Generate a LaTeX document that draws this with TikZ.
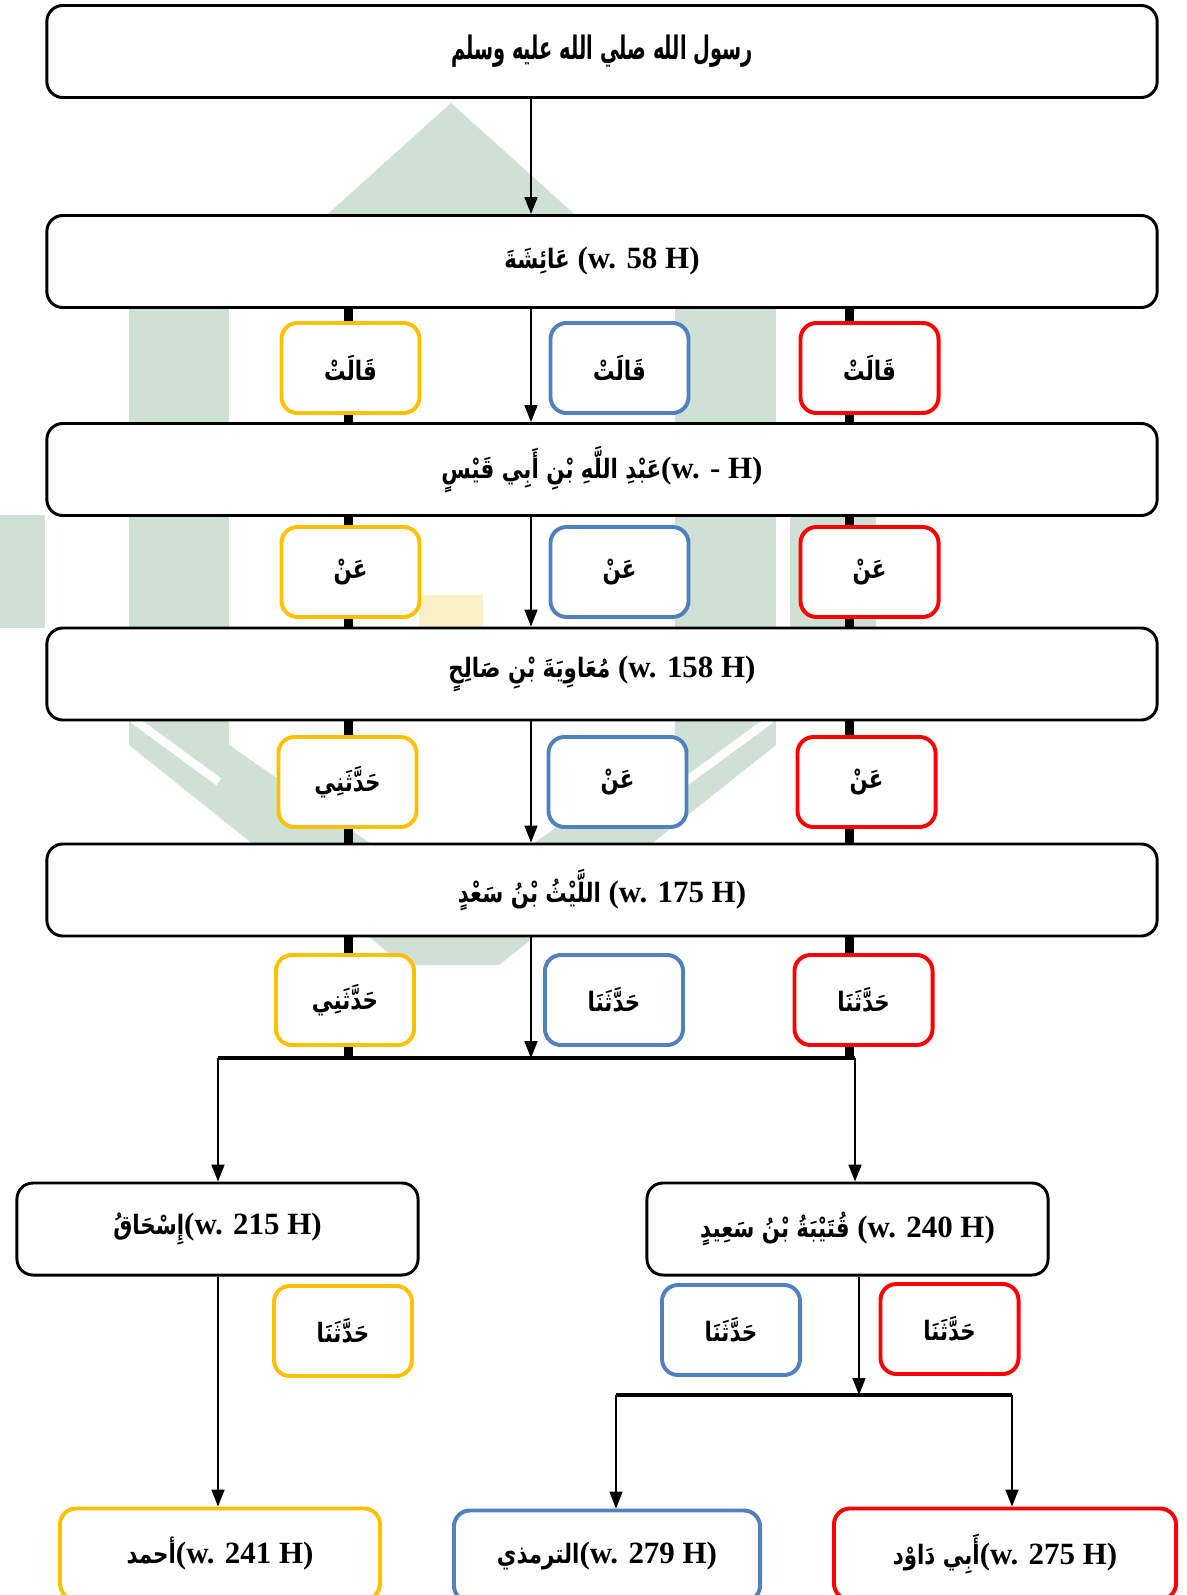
\documentclass[tikz,border=0pt]{standalone}
\usepackage{fontspec}
\setmainfont{Liberation Serif}
\newfontfamily\arabicfont[Script=Arabic,FakeStretch=0.8]{DejaVu Sans}
\newfontfamily\arabjudul[Script=Arabic,FakeStretch=0.6]{DejaVu Sans}
\TeXXeTstate=1
\usetikzlibrary{arrows.meta}
\definecolor{kuning}{HTML}{FFC000}
\definecolor{biru}{HTML}{4F81BD}
\definecolor{merah}{HTML}{FF0000}
\definecolor{hijaumuda}{HTML}{CFE1D5}
\definecolor{kuningmuda}{HTML}{FCF0C6}
\newcommand{\arab}[1]{{\arabicfont\bfseries\fontsize{19}{22}\selectfont\beginR #1\endR}}
\newcommand{\lafalqalat}{\arab{قَالَتْ}}
\newcommand{\lafalan}{\arab{عَنْ}}
\newcommand{\lafalhaddatsani}{\arab{حَدَّثَنِي}}
\newcommand{\lafalhaddatsana}{\arab{حَدَّثَنَا}}
\tikzset{
  rawi/.style={draw=black, line width=2.1pt, fill=white, rounded corners=0.4cm,
    minimum height=2.3cm, inner sep=0pt, font=\bfseries\fontsize{22}{26}\selectfont},
  sanad/.style={rawi, minimum width=27.75cm},
  cabang/.style={rawi, minimum width=10.025cm},
  mukharrij/.style={rawi, line width=2.8pt, minimum height=2.275cm},
  lafal/.style={fill=white, line width=2.8pt, rounded corners=0.4cm,
    minimum width=3.45cm, minimum height=2.25cm, inner sep=0pt},
  jalur/.style={line width=6.4pt},
  garis/.style={line width=2.5pt},
  panah/.style={line width=1.4pt, -{Triangle[length=0.42cm,width=0.32cm]}},
  latar/.style={fill=hijaumuda}
}
\begin{document}
\begin{tikzpicture}[x=0.025cm,y=-0.025cm]
\useasboundingbox (0,0) rectangle (1186,1595);
% logo di latar
\fill[latar] (451,103) -- (310,230) -- (592,230) -- cycle;
\fill[latar] (129,290) rectangle (229,745);
\fill[latar] (675,290) rectangle (776,745);
\fill[latar] (129,745) -- (229,745) -- (452,900) -- (675,745) -- (776,745) -- (499,965) -- (404,965) -- cycle;
\fill[latar] (0,515) rectangle (45,628);
\fill[latar] (790,517) rectangle (876,632);
\draw[white, line width=6pt] (133,719) -- (219,782);
\draw[white, line width=6pt] (771,719) -- (685,782);
\fill[kuningmuda] (419,595) rectangle (483,640);

% perawi
\node[sanad] (rasul) at (602,51.5) {{\arabjudul\bfseries\fontsize{23}{26}\selectfont\beginR رسول الله صلي الله عليه وسلم\endR}};
\node[sanad] (aisyah) at (602,261.5) {\arab{عَائِشَةَ} (w. 58 H)};
\node[sanad] (abdullah) at (602,469.5) {\arab{عَبْدِ اللَّهِ بْنِ أَبِي قَيْسٍ}(w. - H)};
\node[sanad] (muawiyah) at (602,674) {\arab{مُعَاوِيَةَ بْنِ صَالِحٍ} (w. 158 H)};
\node[sanad] (laits) at (602,890) {\arab{اللَّيْثُ بْنُ سَعْدٍ} (w. 175 H)};
\node[cabang] (ishaq) at (217.5,1229) {\arab{إِسْحَاقُ}(w. 215 H)};
\node[cabang] (qutaibah) at (847.5,1229) {\arab{قُتَيْبَةُ بْنُ سَعِيدٍ} (w. 240 H)};
\node[mukharrij, draw=kuning, minimum width=8cm] (ahmad) at (220,1554) {\arab{أحمد}(w. 241 H)};
\node[mukharrij, draw=biru, minimum width=7.65cm] (tirmidzi) at (607,1556) {\arab{الترمذي}(w. 279 H)};
\node[mukharrij, draw=merah, minimum width=8.55cm] (abudawud) at (1005,1554) {\arab{أَبِي دَاوْد}(w. 275 H)};

% jalur sanad
\coordinate (tengah) at (531,0);
\coordinate (kiri) at (348,0);
\coordinate (kanan) at (849,0);
\coordinate (simpulA) at (218,1058);
\coordinate (simpulB) at (855,1058);
\coordinate (tengahB) at (859,0);
\coordinate (simpulC) at (616,1395);
\coordinate (simpulD) at (1012,1395);
\draw[panah] (rasul.south -| tengah) -- (aisyah.north -| tengah);
\foreach \atas/\bawah in {aisyah/abdullah, abdullah/muawiyah, muawiyah/laits} {
  \draw[panah] (\atas.south -| tengah) -- (\bawah.north -| tengah);
  \draw[jalur] (\atas.south -| kiri) -- (\bawah.north -| kiri);
  \draw[jalur] (\atas.south -| kanan) -- (\bawah.north -| kanan);
}
\draw[jalur] (laits.south -| kiri) -- (kiri |- simpulA);
\draw[jalur] (laits.south -| kanan) -- (kanan |- simpulA);
\draw[panah] (laits.south -| tengah) -- (tengah |- simpulA);
\draw[garis] (simpulA) -- (simpulB);
\draw[panah] (simpulA) -- (simpulA |- ishaq.north);
\draw[panah] (simpulB) -- (simpulB |- qutaibah.north);
\draw[panah] (ishaq.south -| simpulA) -- (ahmad.north -| simpulA);
\draw[panah] (qutaibah.south -| tengahB) -- (tengahB |- simpulC);
\draw[garis, line width=3pt] (simpulC) -- (simpulD);
\draw[panah] (simpulC) -- (simpulC |- tirmidzi.north);
\draw[panah] (simpulD) -- (simpulD |- abudawud.north);

% lafal periwayatan
\node[lafal, draw=kuning] (k1) at (350.5,368) {\lafalqalat};
\node[lafal, draw=biru] (b1) at (619.5,368) {\lafalqalat};
\node[lafal, draw=merah] (m1) at (869.5,368) {\lafalqalat};
\node[lafal, draw=kuning] (k2) at (350.5,572) {\lafalan};
\node[lafal, draw=biru] (b2) at (619.5,572) {\lafalan};
\node[lafal, draw=merah] (m2) at (869.5,572) {\lafalan};
\node[lafal, draw=kuning] (k3) at (347.5,782) {\lafalhaddatsani};
\node[lafal, draw=biru] (b3) at (617.5,782) {\lafalan};
\node[lafal, draw=merah] (m3) at (866.5,782) {\lafalan};
\node[lafal, draw=kuning] (k4) at (345,1000) {\lafalhaddatsani};
\node[lafal, draw=biru] (b4) at (614,1000) {\lafalhaddatsana};
\node[lafal, draw=merah] (m4) at (863.5,1000) {\lafalhaddatsana};
\node[lafal, draw=kuning] (k5) at (343,1331) {\lafalhaddatsana};
\node[lafal, draw=biru] (b5) at (731,1330) {\lafalhaddatsana};
\node[lafal, draw=merah] (m5) at (949.5,1329) {\lafalhaddatsana};
\end{tikzpicture}
\end{document}
